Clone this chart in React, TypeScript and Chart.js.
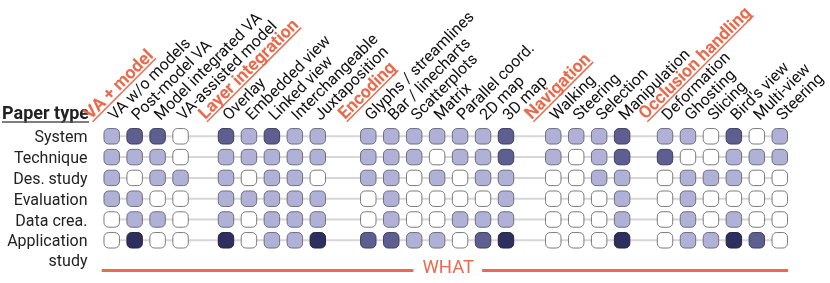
import React, { useEffect, useRef } from "react";
import { Chart, registerables } from "chart.js";

Chart.register(...registerables);

// ---------- data ----------
const rowLabels = ["System", "Technique", "Des. study", "Evaluation", "Data crea.", "Application\nstudy"];

const groupNames = ["VA + model", "Layer integration", "Encoding", "Navigation", "Occlusion handling"];
const vaModelCols = ["VA w/o models", "Post-model VA", "Model integrated VA", "VA-assisted model"];
const layerCols = ["Overlay", "Embedded view", "Linked view", "Interchangeable", "Juxtaposition"];
const encodingCols = ["Glyphs / streamlines", "Bar / linecharts", "Scatterplots", "Matrix", "Parallel coord.", "2D map", "3D map"];
const navigationCols = ["Walking", "Steering", "Selection", "Manipulation"];
const occlusionCols = ["Deformation", "Ghosting", "Slicing", "Bird's view", "Multi-view", "Steering"];
const groupColumns = [vaModelCols, layerCols, encodingCols, navigationCols, occlusionCols];

// levels: 0 none, 1 few, 2 some, 3 many
const systemRow = [1, 2, 2, 0, 2, 1, 2, 1, 1, 1, 1, 1, 1, 1, 1, 2, 1, 1, 1, 2, 1, 1, 0, 2, 0, 1];
const techniqueRow = [1, 1, 1, 0, 1, 1, 1, 1, 1, 1, 1, 1, 0, 1, 1, 2, 1, 0, 1, 2, 2, 0, 0, 1, 1, 1];
const desStudyRow = [1, 0, 1, 1, 1, 0, 1, 1, 0, 1, 1, 0, 1, 0, 1, 1, 0, 0, 1, 1, 0, 1, 1, 1, 0, 0];
const evaluationRow = [1, 1, 0, 0, 1, 1, 1, 1, 1, 0, 1, 0, 0, 0, 0, 1, 0, 0, 0, 1, 0, 1, 0, 0, 0, 0];
const dataCreaRow = [0, 1, 1, 0, 1, 0, 1, 1, 1, 0, 1, 0, 0, 1, 1, 1, 0, 0, 0, 1, 0, 1, 0, 1, 0, 0];
const applicationRow = [0, 3, 0, 0, 3, 0, 1, 1, 3, 2, 2, 1, 1, 0, 2, 3, 0, 0, 0, 3, 0, 1, 1, 3, 2, 0];
const rowValues = [systemRow, techniqueRow, desStudyRow, evaluationRow, dataCreaRow, applicationRow];

const footerLabel = "WHAT";
const paperTypeLabel = "Paper type";

// ---------- layout / style ----------
const W = 830;
const H = 283;
const X0 = 111.7; // pixel of first column
const DX = 22.95; // column pitch
const Y0 = 136.3; // pixel of first row
const DY = 20.8; // row pitch
const GROUP_GAPS = [0.98, 1.2, 1.06, 0.87]; // extra slots between groups

const levelFill = ["#ffffff", "#b1b1d8", "#5e5e91", "#2f2f5f"];
const levelBorder = ["#7a7a7a", "#6e6e7e", "#3e3e5e", "#23233f"];
const ORANGE = "#e96b4c";
const FONT = "Roboto, 'Noto Sans', sans-serif";

// column positions (slot units) derived from group structure
const colPos: number[] = [];
const headerPos: number[] = [];
{
  let p = 0;
  groupColumns.forEach((cols, g) => {
    if (g === 0) headerPos.push(-1);
    else {
      const gap = 1 + GROUP_GAPS[g - 1];
      headerPos.push(p - 1 + gap / 2);
      p = p - 1 + gap;
    }
    cols.forEach(() => {
      colPos.push(p);
      p += 1;
    });
  });
}
const allCols = groupColumns.flat();

const overlayPlugin = {
  id: "overlayText",
  afterDraw(chart: any) {
    const ctx = chart.ctx as CanvasRenderingContext2D;
    const xs = chart.scales.x;
    const ys = chart.scales.y;
    ctx.save();

    // row labels
    ctx.fillStyle = "#222";
    ctx.font = `16px ${FONT}`;
    ctx.textAlign = "right";
    ctx.textBaseline = "alphabetic";
    rowLabels.forEach((lab, r) => {
      const yc = ys.getPixelForValue(r);
      const lines = lab.split("\n");
      lines.forEach((ln, k) => {
        ctx.fillText(ln, 87.5, yc + 6 + k * 20);
      });
    });

    // Paper type
    ctx.font = `bold 18px ${FONT}`;
    ctx.textAlign = "left";
    ctx.fillStyle = "#222";
    ctx.fillText(paperTypeLabel, 2, 118.5);
    const ptw = ctx.measureText(paperTypeLabel).width;
    ctx.strokeStyle = "#555";
    ctx.lineWidth = 1.5;
    ctx.beginPath();
    ctx.moveTo(2, 122);
    ctx.lineTo(2 + ptw, 122);
    ctx.stroke();

    // column labels
    ctx.font = `16px ${FONT}`;
    ctx.fillStyle = "#111";
    allCols.forEach((lab, i) => {
      const x = xs.getPixelForValue(colPos[i]);
      ctx.save();
      ctx.translate(x + 3, 121);
      ctx.rotate(-Math.PI / 4);
      ctx.fillText(lab, 0, 0);
      ctx.restore();
    });

    // group headers
    ctx.font = `bold 17.5px ${FONT}`;
    groupNames.forEach((lab, g) => {
      const x = xs.getPixelForValue(headerPos[g]);
      ctx.save();
      ctx.translate(x + 2, 120);
      ctx.rotate(-Math.PI / 4);
      ctx.fillStyle = ORANGE;
      ctx.fillText(lab, 0, 0);
      const tw = ctx.measureText(lab).width;
      ctx.strokeStyle = ORANGE;
      ctx.lineWidth = 1.5;
      ctx.beginPath();
      ctx.moveTo(0, 2.5);
      ctx.lineTo(tw, 2.5);
      ctx.stroke();
      ctx.restore();
    });

    // footer line + WHAT
    const left = xs.getPixelForValue(colPos[0]) - 10;
    const right = xs.getPixelForValue(colPos[colPos.length - 1]) + 8.3;
    const fy = 270.5;
    ctx.font = `400 18.5px ${FONT}`;
    ctx.textAlign = "center";
    ctx.textBaseline = "middle";
    const cx = 448.3;
    const fw = ctx.measureText(footerLabel).width;
    ctx.fillStyle = ORANGE;
    ctx.fillText(footerLabel, cx, 268.5);
    ctx.strokeStyle = ORANGE;
    ctx.lineWidth = 3;
    ctx.beginPath();
    ctx.moveTo(left, fy);
    ctx.lineTo(cx - fw / 2 - 9, fy);
    ctx.moveTo(cx + fw / 2 + 8, fy);
    ctx.lineTo(right, fy);
    ctx.stroke();

    ctx.restore();
  },
};

export default function App() {
  const ref = useRef<HTMLCanvasElement | null>(null);
  useEffect(() => {
    document.body.style.margin = "0";
    const canvas = ref.current;
    if (!canvas) return;
    const lineSets = rowValues.map((_, r) => ({
      type: "line" as const,
      data: [
        { x: colPos[0], y: r },
        { x: colPos[colPos.length - 1], y: r },
      ],
      borderColor: "#d6d6d6",
      borderWidth: 2,
      pointRadius: 0,
      showLine: true,
      order: 10,
    }));
    const cellSets = rowValues.map((vals, r) => ({
      type: "scatter" as const,
      data: vals.map((_, i) => ({ x: colPos[i], y: r })),
      pointStyle: "rectRounded",
      pointRadius: 9,
      pointHoverRadius: 9,
      pointBackgroundColor: vals.map((v) => levelFill[v]),
      pointBorderColor: vals.map((v) => levelBorder[v]),
      pointBorderWidth: 1,
      order: 1,
    }));
    const chart = new Chart(canvas, {
      type: "scatter",
      data: { datasets: [...lineSets, ...cellSets] as any },
      options: {
        animation: false,
        responsive: false,
        maintainAspectRatio: false,
        devicePixelRatio: 1,
        events: [],
        layout: { padding: 0, autoPadding: false },
        plugins: { legend: { display: false }, tooltip: { enabled: false } },
        scales: {
          x: { type: "linear", display: false, min: -X0 / DX, max: (W - X0) / DX },
          y: { type: "linear", display: false, reverse: true, min: -Y0 / DY, max: (H - Y0) / DY },
        },
      },
      plugins: [overlayPlugin],
    });
    return () => chart.destroy();
  }, []);
  return (
    <div style={{ width: W, height: H, background: "#fff" }}>
      <canvas ref={ref} width={W} height={H} style={{ display: "block" }} />
    </div>
  );
}
